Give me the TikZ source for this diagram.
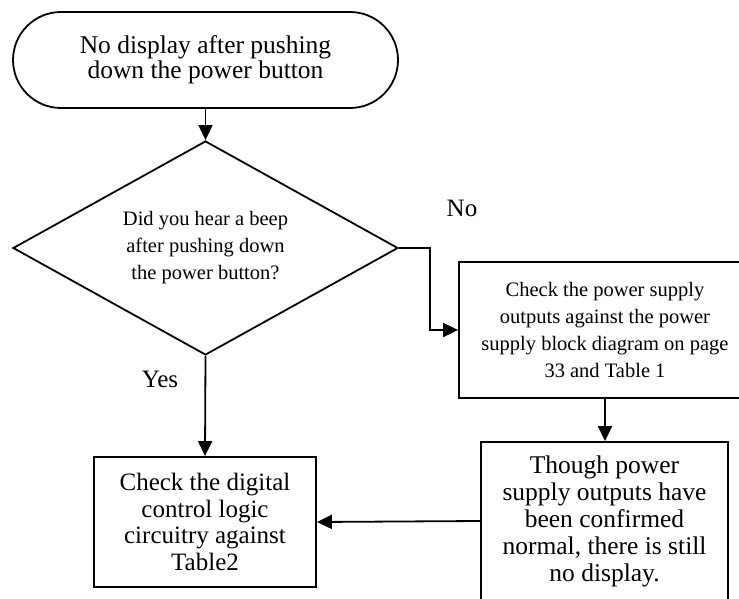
\documentclass[tikz,border=0pt]{standalone}
\usepackage{fontspec}
\setmainfont{Liberation Serif}
\usetikzlibrary{arrows.meta,shapes.geometric}
\begin{document}
\begin{tikzpicture}[x=1pt,y=-1pt,line width=1.8pt,
  flow/.style={-{Triangle[length=15pt,width=14pt]}},
  terminal/.style={draw,rounded corners=48pt,minimum width=385pt,minimum height=96pt,align=center,font=\fontsize{25.5}{25}\selectfont},
  decision/.style={draw,diamond,aspect=1.8,inner sep=0pt,minimum width=385pt,minimum height=214pt,align=center,font=\fontsize{20.5}{27}\selectfont},
  stepbox/.style={draw,rectangle,inner sep=0pt,align=center}]
\useasboundingbox (0,0) rectangle (739,599);
\node[terminal] (start) at (205.5,60) {No display after pushing\\down the power button};
\node[decision] (beep) at (205.5,248) {Did you hear a beep\\after pushing down\\the power button?};
\node[stepbox,minimum width=292pt,minimum height=136pt,font=\fontsize{20.5}{27}\selectfont] (psu) at (605,330)
  {Check the power supply\\outputs against the power\\supply block diagram on page\\33 and Table 1};
\node[stepbox,minimum width=222pt,minimum height=130pt,font=\fontsize{25}{26.5}\selectfont] (logic) at (205,522)
  {Check the digital\\control logic\\circuitry against\\Table2};
\node[stepbox,minimum width=247pt,minimum height=158pt,font=\fontsize{25.5}{27}\selectfont] (still) at (604.5,521)
  {Though power\\supply outputs have\\been confirmed\\normal, there is still\\no display.};
\node[font=\fontsize{25}{25}\selectfont] (lblno) at (462,208) {No};
\node[font=\fontsize{25}{25}\selectfont] (lblyes) at (160,379) {Yes};
% connectors
\draw[flow] (start.south) -- (beep.north);
\draw[flow] (beep.east) -- ++(31,0) |- (psu.west);
\draw[flow] (beep.south) -- (logic.north);
\draw[flow] (psu.south) -- (psu.south |- still.north);
\draw[flow] (still.west) -- (logic.east);
\end{tikzpicture}
\end{document}
